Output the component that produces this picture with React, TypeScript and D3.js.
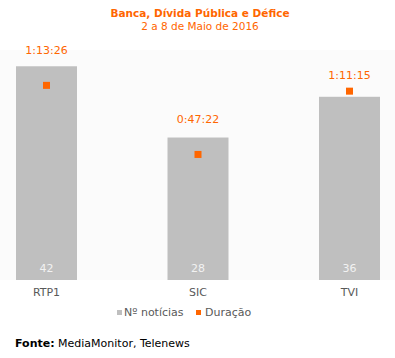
import React from "react";
import * as d3 from "d3";

const categories = ["RTP1", "SIC", "TVI"];
const newsCounts = [42, 28, 36];
const durations = ["1:13:26", "0:47:22", "1:11:15"];
const countMax = 45;
const durationMaxDays = 0.06;

const toDays = (s: string) => {
  const [h, m, sec] = s.split(":").map(Number);
  return (h * 3600 + m * 60 + sec) / 86400;
};

const W = 395;
const H = 358;
const FONT = "'DejaVu Sans', Verdana, sans-serif";
const ORANGE = "#ff6600";
const GREY = "#bfbfbf";
const TEXT = "#595959";

export default function App() {
  const plotTop = 51;
  const plotBottom = 280;
  const x = d3.scalePoint<string>().domain(categories).range([46.5, 349.5]).padding(0);
  const yCount = d3.scaleLinear().domain([0, countMax]).range([plotBottom, plotTop]);
  const yDur = d3.scaleLinear().domain([0, durationMaxDays]).range([plotBottom, plotTop]);
  const barW = 61;
  const mk = 7;
  const labelOffsets = [31.5, 31.5, 12.5];

  return (
    <svg width={W} height={H} style={{ position: "absolute", left: 0, top: 0, fontFamily: FONT }}>
      <rect x={0} y={0} width={W} height={H} fill="#ffffff" />
      <rect x={0} y={plotTop - 1} width={W} height={plotBottom - plotTop + 1} fill="#fbfbfb" />
      <text x={200} y={17} textAnchor="middle" fill={ORANGE} fontWeight="bold" fontSize={10.5}>
        Banca, Dívida Pública e Défice
      </text>
      <text x={200} y={30} textAnchor="middle" fill={ORANGE} fontSize={10.5}>
        2 a 8 de Maio de 2016
      </text>
      {categories.map((c, i) => {
        const cx = x(c)!;
        return (
          <g key={c}>
            <rect x={cx - barW / 2} y={yCount(newsCounts[i])} width={barW} height={plotBottom - yCount(newsCounts[i])} fill={GREY} />
            <text x={cx} y={272} textAnchor="middle" fill="#f2f2f2" fontSize={11}>
              {newsCounts[i]}
            </text>
            <rect x={cx - mk / 2} y={yDur(toDays(durations[i])) - mk / 2} width={mk} height={mk} fill={ORANGE} />
            <text x={cx} y={yDur(toDays(durations[i])) - labelOffsets[i]} textAnchor="middle" fill={ORANGE} fontSize={11}>
              {durations[i]}
            </text>
            <text x={cx} y={296} textAnchor="middle" fill={TEXT} fontSize={11}>
              {c}
            </text>
          </g>
        );
      })}
      <rect x={117} y={310} width={5} height={5} fill={GREY} />
      <text x={124} y={316} fill={TEXT} fontSize={11}>Nº notícias</text>
      <rect x={196} y={310} width={5} height={5} fill={ORANGE} />
      <text x={205} y={316} fill={TEXT} fontSize={11}>Duração</text>
      <text x={15} y={347} fill="#000000" fontSize={11}>
        <tspan fontWeight="bold">Fonte:</tspan>
        <tspan> MediaMonitor, Telenews</tspan>
      </text>
    </svg>
  );
}
